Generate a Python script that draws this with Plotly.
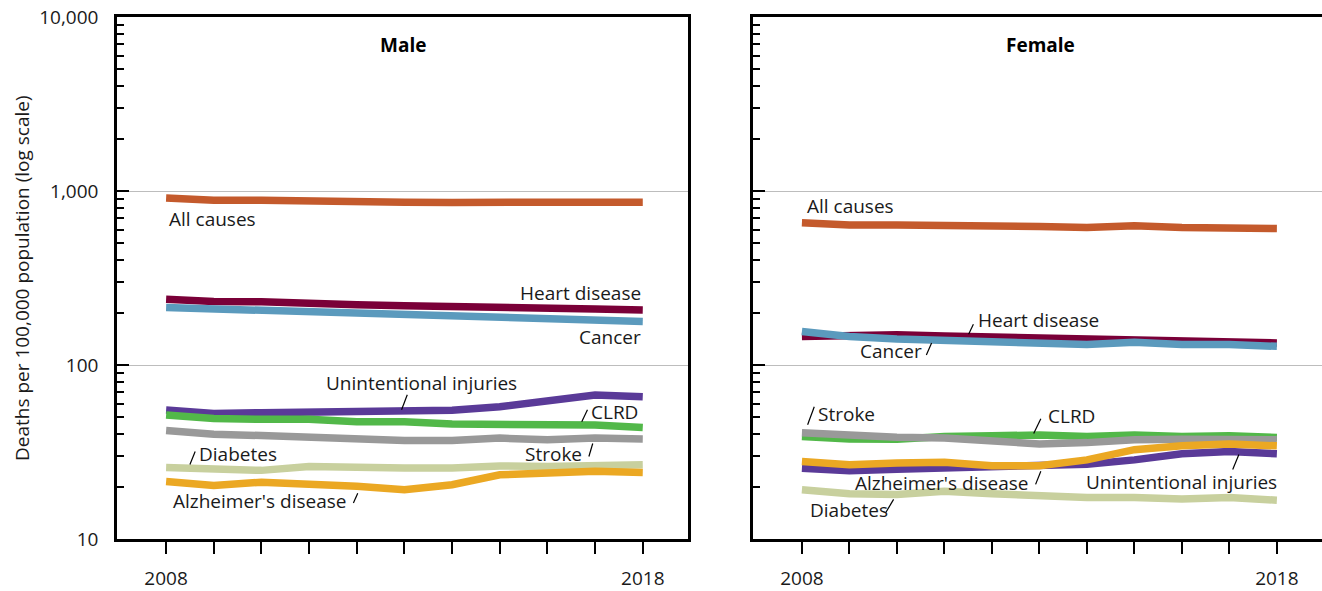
import math
import plotly.graph_objects as go

years = list(range(2008, 2019))

causes = ["All causes", "Heart disease", "Cancer", "Unintentional injuries",
          "CLRD", "Stroke", "Diabetes", "Alzheimer's disease"]
colors = ["#C45A2C", "#7A0038", "#5B9ABD", "#5A3A98",
          "#52B849", "#999999", "#C8D09E", "#EBA823"]

# Male death rates per 100,000
male_all_causes = [912, 885, 885, 870, 862, 861, 860, 861, 861, 861, 861]
male_heart = [239, 232, 231, 224, 222, 219, 218, 214, 212, 210, 207]
male_cancer = [214, 210, 208, 203, 200, 195, 193, 190, 186, 181, 178]
male_injuries = [55.1, 52.7, 53.2, 53.5, 54.0, 54.0, 55.0, 57.5, 62.0, 67.2, 65.6]
male_clrd = [51.6, 49.3, 48.7, 48.7, 47.2, 47.2, 45.8, 45.8, 45.2, 45.2, 43.7]
male_stroke = [42.0, 40.0, 39.3, 38.3, 37.6, 36.8, 36.8, 38.0, 37.2, 38.0, 37.6]
male_diabetes = [25.8, 25.0, 24.8, 26.1, 25.6, 25.6, 25.6, 26.3, 26.1, 26.7, 26.7]
male_alzheimers = [21.4, 20.3, 21.2, 20.7, 20.1, 19.2, 20.5, 23.4, 23.9, 24.5, 24.1]

# Female death rates per 100,000
female_all_causes = [656, 637, 637, 636, 626, 626, 617, 631, 617, 617, 609]
female_heart = [146, 149, 149, 147, 145, 143, 141, 140, 138, 136, 134]
female_cancer = [156, 146, 141, 138, 135, 133, 131, 135, 131, 131, 128]
female_injuries = [25.5, 24.7, 25.2, 25.5, 25.8, 26.4, 26.9, 28.5, 30.9, 31.8, 30.9]
female_clrd = [38.8, 37.6, 37.4, 38.8, 39.2, 39.6, 38.8, 39.6, 38.8, 39.2, 38.3]
female_stroke = [40.8, 39.3, 38.5, 38.0, 36.8, 35.2, 35.8, 37.2, 37.4, 37.4, 37.2]
female_diabetes = [19.2, 18.2, 18.0, 18.8, 18.2, 17.6, 17.3, 17.3, 17.0, 17.3, 16.7]
female_alzheimers = [27.9, 26.7, 27.3, 27.6, 26.4, 26.4, 28.5, 32.6, 34.3, 35.2, 34.3]

male_series = [male_all_causes, male_heart, male_cancer, male_injuries,
               male_clrd, male_stroke, male_diabetes, male_alzheimers]
female_series = [female_all_causes, female_heart, female_cancer, female_injuries,
                 female_clrd, female_stroke, female_diabetes, female_alzheimers]

y_tickvals = [10, 100, 1000, 10000]
y_ticktext = ["10", "100", "1,000", "10,000"]
y_minor = [m * 10 ** k for k in (1, 2, 3) for m in range(2, 10)]
x_ticktext = ["2008" if y == 2008 else ("2018" if y == 2018 else "") for y in years]

# Label placements: (text, year, value, xanchor)
male_labels = [
    ("All causes", 2008.02, 692, "left"),
    ("Heart disease", 2018.0, 258, "right"),
    ("Cancer", 2018.0, 145, "right"),
    ("Unintentional injuries", 2013.36, 78.9, "center"),
    ("CLRD", 2016.87, 53.8, "left"),
    ("Stroke", 2016.76, 31.0, "right"),
    ("Diabetes", 2008.65, 31.0, "left"),
    ("Alzheimer's disease", 2011.82, 16.5, "right"),
]
female_labels = [
    ("All causes", 2008.07, 820, "left"),
    ("Heart disease", 2011.66, 181, "left"),
    ("Cancer", 2010.58, 120, "right"),
    ("Stroke", 2008.30, 52.5, "left"),
    ("CLRD", 2013.13, 51.2, "left"),
    ("Alzheimer's disease", 2012.80, 20.9, "right"),
    ("Unintentional injuries", 2018.04, 21.4, "right"),
    ("Diabetes", 2008.12, 14.7, "left"),
]
# Leader lines: (year0, value0, year1, value1)
male_leaders = [
    (2012.94, 55.3, 2013.06, 67.4),
    (2016.72, 47.2, 2016.84, 55.3),
    (2016.87, 29.8, 2016.95, 35.4),
    (2008.50, 26.8, 2008.61, 31.8),
    (2011.93, 16.1, 2012.02, 18.3),
]
female_leaders = [
    (2011.51, 150.3, 2011.61, 171.5),
    (2010.62, 114, 2010.73, 133.6),
    (2008.12, 45.4, 2008.26, 57.5),
    (2012.88, 40.4, 2013.03, 49.1),
    (2012.92, 20.6, 2013.03, 24.5),
    (2017.07, 25.1, 2017.20, 30.6),
    (2009.76, 14.1, 2009.93, 16.9),
]

FONT = "Open Sans"
FS = 19
fig = go.Figure()

for series, xa, ya in ((male_series, "x", "y"), (female_series, "x2", "y2")):
    for name, col, vals in zip(causes, colors, series):
        fig.add_trace(go.Scatter(x=years, y=vals, mode="lines", name=name,
                                 line=dict(color=col, width=7.5),
                                 xaxis=xa, yaxis=ya, showlegend=False,
                                 hoverinfo="skip"))

common_x = dict(range=[2006.97, 2018.95], tickmode="array", tickvals=years,
                ticktext=x_ticktext, ticks="outside", ticklen=12, tickwidth=2,
                tickcolor="black", showline=True, linewidth=2.5,
                linecolor="black", mirror=True, showgrid=False, zeroline=False,
                tickfont=dict(family=FONT, size=FS, color="#1a1a1a"),
                ticklabelstandoff=8)
common_y = dict(type="log", range=[1, 4], tickmode="array", tickvals=y_tickvals,
                ticktext=y_ticktext, ticks="inside", ticklen=12, tickwidth=2,
                tickcolor="black", showline=True, linewidth=2.5,
                linecolor="black", showgrid=True, gridcolor="#bdbdbd",
                gridwidth=1, zeroline=False,
                minor=dict(tickmode="array", tickvals=y_minor, ticks="inside",
                           ticklen=7, tickwidth=2, tickcolor="black",
                           showgrid=False),
                tickfont=dict(family=FONT, size=FS, color="#1a1a1a"))

fig.update_layout(
    width=1322, height=591,
    margin=dict(l=117, r=0, t=17, b=46),
    paper_bgcolor="white", plot_bgcolor="white",
    font=dict(family=FONT, size=FS, color="#1a1a1a"),
    xaxis=dict(domain=[0, 0.4739], anchor="y", **common_x),
    yaxis=dict(domain=[0, 1], anchor="x", mirror=True, ticklabelstandoff=12,
               **common_y),
    xaxis2=dict(domain=[0.5278, 1], anchor="y2", **common_x),
    yaxis2=dict(domain=[0, 1], anchor="x2", mirror=False,
                showticklabels=False, **common_y),
)

annotations = []
for labels, xr, yr in ((male_labels, "x", "y"), (female_labels, "x2", "y2")):
    for text, yx, val, anchor in labels:
        annotations.append(dict(text=text, x=yx, y=math.log10(val), xref=xr,
                                yref=yr, xanchor=anchor, yanchor="middle",
                                showarrow=False,
                                font=dict(family=FONT, size=FS,
                                          color="#1a1a1a")))
annotations.append(dict(text="<b>Male</b>", x=0.5, y=0.947, xref="x domain",
                        yref="y domain", xanchor="center", yanchor="middle",
                        showarrow=False,
                        font=dict(family=FONT, size=FS, color="black")))
annotations.append(dict(text="<b>Female</b>", x=0.505, y=0.947,
                        xref="x2 domain", yref="y2 domain", xanchor="center",
                        yanchor="middle", showarrow=False,
                        font=dict(family=FONT, size=FS, color="black")))
annotations.append(dict(text="Deaths per 100,000 population (log scale)",
                        x=-0.0788, y=0.5, xref="paper", yref="paper",
                        xanchor="center", yanchor="middle",
                        textangle=-90, showarrow=False,
                        font=dict(family=FONT, size=19, color="#1a1a1a")))
fig.update_layout(annotations=annotations)

shapes = []
for leaders, xr, yr in ((male_leaders, "x", "y"), (female_leaders, "x2", "y2")):
    for x0, y0, x1, y1 in leaders:
        shapes.append(dict(type="line", x0=x0, y0=y0, x1=x1, y1=y1, xref=xr,
                           yref=yr, line=dict(color="black", width=1.2)))
fig.update_layout(shapes=shapes)

fig.write_html("out.html")
